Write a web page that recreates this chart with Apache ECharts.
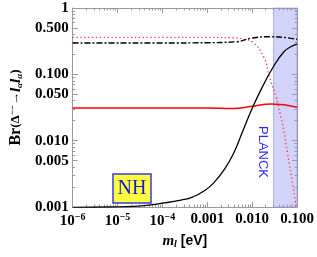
<!DOCTYPE html>
<html><head><meta charset="utf-8">
<script src="https://cdn.jsdelivr.net/npm/echarts@6/dist/echarts.min.js"></script>
<style>html,body{margin:0;padding:0;background:#fff}#c{width:317px;height:257px}</style>
</head><body><div id="c"></div>
<script>
// ---- data ----
const mBlackSolid  = [1e-6, 6.7e-6, 2.9e-5, 1.08e-4, 2.6e-4, 4.67e-4, 8.8e-4, 0.00144, 0.00234, 0.0038, 0.0062, 0.0101, 0.0164, 0.0295, 0.0505, 0.0711, 0.1];
const brBlackSolid = [0.00099, 0.001, 0.00103, 0.00115, 0.00127, 0.00141, 0.00177, 0.00237, 0.0036, 0.00628, 0.014, 0.031, 0.062, 0.129, 0.217, 0.258, 0.286];

const mBlackDashed  = [1e-6, 1e-4, 0.001, 0.0044, 0.0101, 0.0266, 0.050, 0.1];
const brBlackDashed = [0.297, 0.297, 0.300, 0.310, 0.353, 0.369, 0.361, 0.337];

const mRedDotted  = [1e-6, 1e-4, 0.001, 0.0044, 0.0062, 0.0101, 0.0181, 0.0243, 0.0342, 0.0436, 0.0505, 0.0614, 0.0822, 0.0955];
const brRedDotted = [0.36, 0.36, 0.36, 0.355, 0.34, 0.307, 0.182, 0.091, 0.0455, 0.0227, 0.0144, 0.0065, 0.0020, 0.0010];

const mRedSolid  = [1e-6, 1e-4, 0.001, 0.0038, 0.0101, 0.027, 0.1];
const brRedSolid = [0.031, 0.031, 0.031, 0.0305, 0.033, 0.0356, 0.032];

const planckBand = [0.03, 0.1];

const xTickValues = [1e-6, 1e-5, 1e-4, 1e-3, 1e-2, 1e-1];
const xTickLabels = ['{b|10}{s|−6}', '{b|10}{s|−5}', '{b|10}{s|−4}', '0.001', '0.010', '0.100'];
const yTickValues = [0.001, 0.005, 0.01, 0.05, 0.1, 0.5, 1];
const yTickLabels = ['0.001', '0.005', '0.010', '0.050', '0.100', '0.500', '1'];

// ---- helpers ----
function pairs(xs, ys) { return xs.map((x, i) => [x, ys[i]]); }
function minorTicks(lo, hi) {
  const out = [];
  for (let e = lo; e < hi; e++) for (let k = 2; k <= 9; k++) out.push(k * Math.pow(10, e));
  return out;
}
function nearestLabel(v, vals, labs) {
  let bi = 0, bd = Infinity;
  vals.forEach((t, i) => { const d = Math.abs(Math.log10(t) - Math.log10(v)); if (d < bd) { bd = d; bi = i; } });
  return labs[bi];
}
const xMinor = minorTicks(-6, -1);
const yMinor = minorTicks(-3, 0);
const frame = '#9a9a9a';
const serifB = {fontFamily: 'Liberation Serif', fontWeight: 'bold', color: '#000'};

function mkX(pos, ticks, len, labels, line) {
  return {
    type: 'log', logBase: 10, min: 1e-6, max: 0.1, position: pos,
    axisLine: {show: line, onZero: false, lineStyle: {color: frame, width: 1}},
    axisTick: {show: true, inside: true, length: len, customValues: ticks, lineStyle: {color: frame, width: 1}},
    axisLabel: labels ? {
      show: true, customValues: xTickValues, margin: 5, fontSize: 15, ...serifB,
      formatter: v => nearestLabel(v, xTickValues, xTickLabels),
      rich: {b: {fontSize: 15, ...serifB}, s: {fontSize: 10, ...serifB, verticalAlign: 'top', padding: [0, 0, 8, 0]}}
    } : {show: false},
    splitLine: {show: false}
  };
}
function mkY(pos, ticks, len, labels, line) {
  return {
    type: 'log', logBase: 10, min: 0.001, max: 1, position: pos,
    axisLine: {show: line, onZero: false, lineStyle: {color: frame, width: 1}},
    axisTick: {show: true, inside: true, length: len, customValues: ticks, lineStyle: {color: frame, width: 1}},
    axisLabel: labels ? {
      show: true, customValues: yTickValues, margin: 4, fontSize: 15, ...serifB,
      formatter: v => nearestLabel(v, yTickValues, yTickLabels)
    } : {show: false},
    splitLine: {show: false}
  };
}

const xAxes = [mkX('bottom', xTickValues, 5, true, true), mkX('bottom', xMinor, 2.5, false, false),
               mkX('top', xTickValues, 5, false, true), mkX('top', xMinor, 2.5, false, false)];
xAxes[0].name = '{m|m}{sub|l}{ev| [eV]}';
xAxes[0].nameLocation = 'middle';
xAxes[0].nameGap = 27;
xAxes[0].nameTextStyle = {rich: {
  m: {fontFamily: 'Liberation Serif', fontStyle: 'italic', fontWeight: 'bold', fontSize: 15, color: '#000'},
  sub: {fontFamily: 'Liberation Serif', fontStyle: 'italic', fontWeight: 'bold', fontSize: 10, color: '#000', verticalAlign: 'bottom', padding: [4, 0, 0, 0]},
  ev: {fontFamily: 'Liberation Sans', fontWeight: 'bold', fontSize: 14, color: '#000'}
}};
const yAxes = [mkY('left', yTickValues.concat([0.01, 0.1, 1]), 5, true, true), mkY('left', yMinor, 2.5, false, false),
               mkY('right', yTickValues, 5, false, true), mkY('right', yMinor, 2.5, false, false)];
yAxes[0].name = '{br|Br}{p|(Δ}{sup|−−}{p|→}{l|l}{sub|α}{l|l}{sub|α}{p|)}';
yAxes[0].nameLocation = 'middle';
yAxes[0].nameRotate = 90;
yAxes[0].nameGap = 43;
yAxes[0].nameTextStyle = {rich: {
  br: {fontFamily: 'Liberation Serif', fontWeight: 'bold', fontSize: 16, color: '#000'},
  p: {fontFamily: 'Liberation Serif', fontWeight: 'bold', fontSize: 13, color: '#000'},
  sup: {fontFamily: 'Liberation Serif', fontWeight: 'bold', fontSize: 9, color: '#000', verticalAlign: 'top', padding: [0, 0, 6, 0]},
  l: {fontFamily: 'Liberation Serif', fontStyle: 'italic', fontWeight: 'bold', fontSize: 15, color: '#000'},
  sub: {fontFamily: 'Liberation Serif', fontStyle: 'italic', fontWeight: 'bold', fontSize: 9, color: '#000', verticalAlign: 'bottom', padding: [5, 0, 0, 0]}
}};

const chart = echarts.init(document.getElementById('c'), null, {renderer: 'canvas'});
const lineBase = {type: 'line', showSymbol: false, smooth: 0.5, clip: true, xAxisIndex: 0, yAxisIndex: 0, z: 3};
chart.setOption({
  animation: false,
  backgroundColor: '#fff',
  grid: {left: 61, right: 20, top: 8, bottom: 50, containLabel: false},
  xAxis: xAxes,
  yAxis: yAxes,
  series: [
    {type: 'line', data: [], z: 1, xAxisIndex: 0, yAxisIndex: 0,
     markArea: {silent: true, itemStyle: {color: 'rgba(150,150,240,0.42)', borderColor: 'rgba(140,140,230,0.6)', borderWidth: 1},
       data: [[{xAxis: planckBand[0]}, {xAxis: planckBand[1]}]]}},
    {...lineBase, name: 'redDotted', data: pairs(mRedDotted, brRedDotted), lineStyle: {color: '#ff3030', width: 1.3, type: [1.3, 2.6]}},
    {...lineBase, name: 'blackDashed', data: pairs(mBlackDashed, brBlackDashed), lineStyle: {color: '#000', width: 1.4, type: [6, 2, 2, 2]}},
    {...lineBase, name: 'redSolid', data: pairs(mRedSolid, brRedSolid), lineStyle: {color: '#ff0000', width: 1.5}},
    {...lineBase, name: 'blackSolid', data: pairs(mBlackSolid, brBlackSolid), lineStyle: {color: '#000', width: 1.3}}
  ],
  graphic: [
    {type: 'rect', shape: {x: 113, y: 174, width: 38, height: 29}, style: {fill: '#ffff40', stroke: '#3a3ae0', lineWidth: 1.5}, z: 10},
    {type: 'text', x: 132, y: 189, style: {text: 'NH', fontFamily: 'Liberation Serif', fontSize: 20, fill: '#1a1ac8', align: 'center', verticalAlign: 'middle'}, z: 11},
    {type: 'text', x: 263, y: 152, rotation: -Math.PI / 2, style: {text: 'PLANCK', fontFamily: 'Liberation Sans', fontSize: 13, fill: '#2a2aff', align: 'center', verticalAlign: 'middle'}, z: 11}
  ]
});
</script>
</body></html>
